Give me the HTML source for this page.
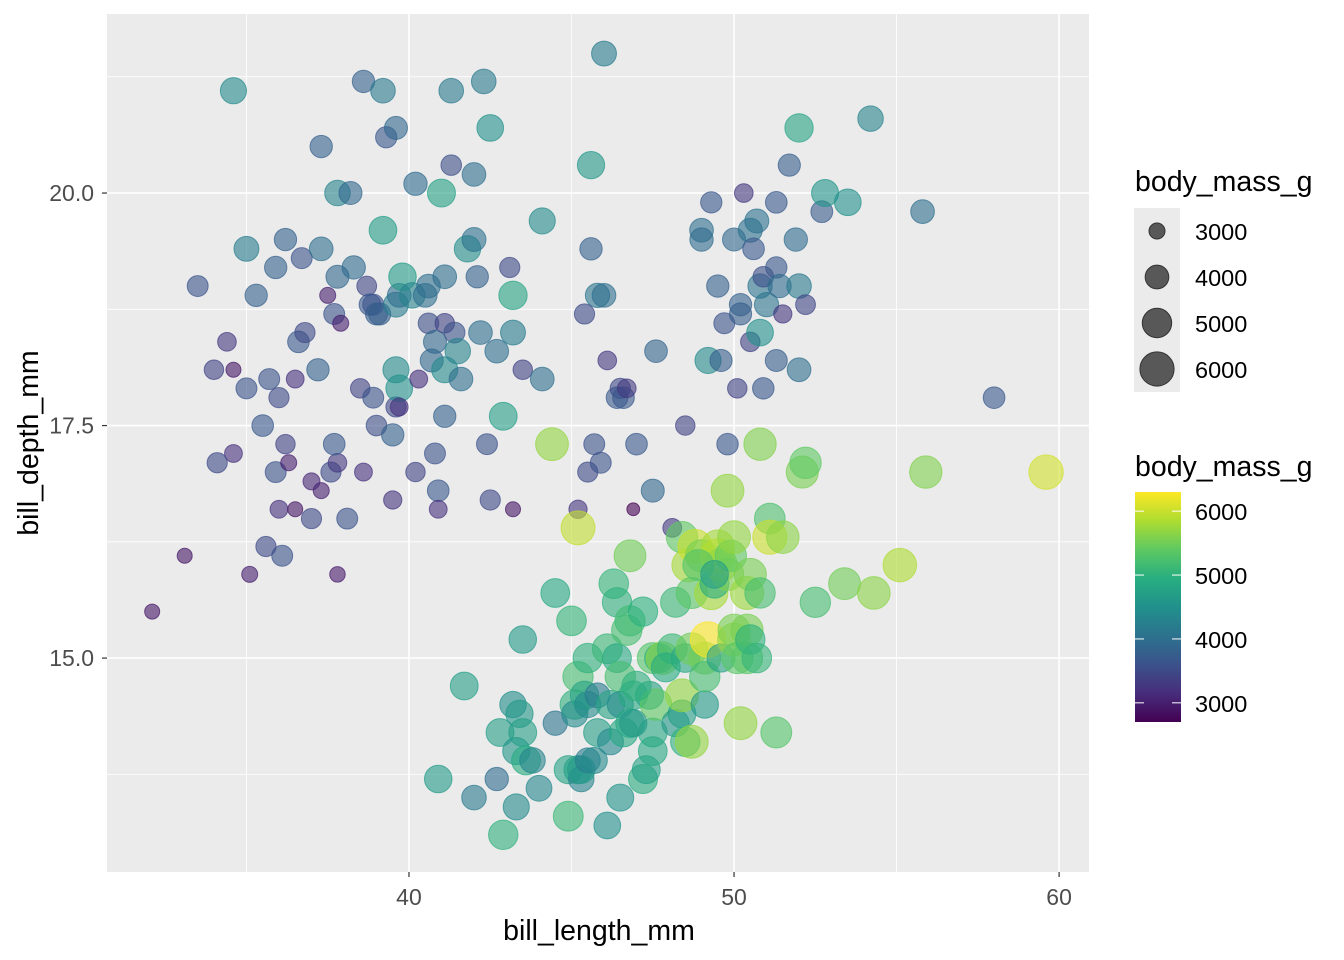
<!DOCTYPE html>
<html><head><meta charset="utf-8"><style>
body{margin:0;background:#fff;}
svg{display:block;font-family:"Liberation Sans",Arial,sans-serif;}
</style></head><body>
<svg id="chart" width="1344" height="960" xmlns="http://www.w3.org/2000/svg">
<rect x="107" y="14" width="982" height="858" fill="#EBEBEB"/>
<g id="grid"></g>
<g id="points"></g>
<g id="axes"></g>
<text x="599" y="940" font-size="28.5" text-anchor="middle" fill="#000">bill_length_mm</text>
<text transform="translate(38,443) rotate(-90)" font-size="28.5" text-anchor="middle" fill="#000">bill_depth_mm</text>
<g id="legend-size">
<text x="1135" y="191" font-size="28.5" fill="#000">body_mass_g</text>
<rect x="1134" y="208" width="46" height="184" fill="#EBEBEB"/>
</g>
<g id="legend-color">
<text x="1135" y="476" font-size="28.5" fill="#000">body_mass_g</text>
<defs><linearGradient id="vir" x1="0" y1="1" x2="0" y2="0">
<stop offset="0" stop-color="#440154"/><stop offset="0.125" stop-color="#472D7B"/><stop offset="0.25" stop-color="#3B528B"/><stop offset="0.375" stop-color="#2C728E"/><stop offset="0.5" stop-color="#21918C"/><stop offset="0.625" stop-color="#28AE80"/><stop offset="0.75" stop-color="#5EC962"/><stop offset="0.875" stop-color="#ADDC30"/><stop offset="1" stop-color="#FDE725"/>
</linearGradient></defs>
<rect x="1135" y="492" width="46" height="230" fill="url(#vir)"/>
</g>
</svg>
<script>
const xTicks=[40,50,60];
const xMinor=[35,45,55];
const yTicks=[15.0,17.5,20.0];
const yMinor=[13.75,16.25,18.75,21.25];
const sizeBreaks=[3000,4000,5000,6000];
const colorBreaks=[3000,4000,5000,6000];
const billLength=[32.1,33.1,33.5,34.0,34.4,34.6,34.6,34.1,34.6,35.1,35.0,35.0,35.3,35.5,35.6,35.9,35.7,35.9,36.0,36.2,36.1,36.2,36.3,36.5,36.6,36.7,36.8,36.0,36.5,37.0,37.2,37.3,37.3,37.6,37.7,37.8,37.9,37.8,37.8,37.7,37.5,37.3,37.0,37.8,38.1,38.2,38.3,38.5,38.6,38.6,38.7,38.8,38.9,38.9,39.0,39.0,39.1,39.2,39.2,39.3,39.5,39.5,39.6,39.6,39.6,39.6,39.7,39.7,39.7,39.8,40.1,40.2,40.2,40.3,40.5,40.6,40.6,40.7,40.8,40.8,40.9,40.9,41.0,41.1,41.1,41.1,41.1,41.3,41.3,41.4,41.5,41.6,41.8,42.0,42.0,42.1,42.2,42.3,42.4,42.5,42.5,42.7,42.9,43.1,43.2,43.2,43.2,43.5,44.1,44.1,45.6,45.8,46.0,45.7,45.5,
45.2,45.4,45.6,45.9,46.0,46.1,46.4,46.5,46.6,46.7,46.9,47.0,47.5,47.6,48.1,48.5,49.0,49.0,49.2,49.3,49.5,49.6,49.7,50.0,50.1,50.2,50.2,50.3,50.5,50.5,50.6,50.7,50.8,50.8,50.9,50.9,51.0,51.3,51.3,51.3,51.4,51.5,51.7,51.9,52.0,52.0,52.0,52.2,52.7,52.8,53.5,54.2,55.8,58.0,49.8,
40.9,41.7,42.0,42.7,42.8,42.9,43.2,43.3,43.3,43.4,43.5,43.5,43.6,43.8,44.0,44.4,44.5,44.5,44.9,44.9,45.0,45.1,45.1,45.2,45.2,45.2,45.3,45.3,45.4,45.5,45.5,45.5,45.7,45.8,45.8,46.1,46.1,46.2,46.2,46.3,46.4,46.4,46.5,46.5,46.5,46.6,46.7,46.8,46.8,46.8,46.9,47.2,47.2,47.3,47.4,47.5,47.5,47.5,47.6,47.7,47.8,48.1,48.2,48.2,48.4,48.4,48.4,48.5,48.5,48.6,48.7,48.7,48.7,48.8,49.0,49.1,49.1,49.1,49.2,49.3,49.4,49.5,49.5,49.6,49.6,49.8,49.8,49.9,50.0,50.0,50.0,50.1,50.2,50.4,50.4,50.4,50.5,50.5,50.7,50.8,50.8,51.1,51.1,51.3,51.5,52.1,52.2,52.5,53.4,54.3,55.1,55.9,59.6,47.0,46.9,47.9,48.9,49.4];
const billDepth=[15.5,16.1,19.0,18.1,18.4,18.1,17.2,17.1,21.1,15.9,19.4,17.9,18.9,17.5,16.2,17.0,18.0,19.2,17.8,17.3,16.1,19.5,17.1,18.0,18.4,19.3,18.5,16.6,16.6,16.5,18.1,19.4,20.5,17.0,18.7,17.1,18.6,19.1,20.0,17.3,18.9,16.8,16.9,15.9,16.5,20.0,19.2,17.9,21.2,17.0,19.0,18.8,17.8,18.8,17.5,18.7,18.7,21.1,19.6,20.6,17.4,16.7,17.7,20.7,18.1,18.8,17.9,18.9,17.7,19.1,18.9,20.1,17.0,18.0,18.9,18.6,19.0,18.2,17.2,18.4,16.8,16.6,20.0,19.1,18.1,17.6,18.6,21.1,20.3,18.5,18.3,18.0,19.4,19.5,20.2,19.1,18.5,21.2,17.3,20.7,16.7,18.3,17.6,19.2,18.5,18.9,16.6,18.1,19.7,18.0,20.3,18.9,21.5,17.3,17.0,
16.6,18.7,19.4,17.1,18.9,18.2,17.8,17.9,17.8,17.9,16.6,17.3,16.8,18.3,16.4,17.5,19.6,19.5,18.2,19.9,19.0,18.2,18.6,19.5,17.9,18.8,18.7,20.0,19.6,18.4,19.4,19.7,19.0,18.5,19.1,17.9,18.8,19.9,19.2,18.2,19.0,18.7,20.3,19.5,18.1,19.0,20.7,18.8,19.8,20.0,19.9,20.8,19.8,17.8,17.3,
13.7,14.7,13.5,13.7,14.2,13.1,14.5,14.0,13.4,14.4,14.2,15.2,13.9,13.9,13.6,17.3,14.3,15.7,13.8,13.3,15.4,14.5,14.4,13.8,14.8,16.4,13.7,13.8,14.6,13.9,14.5,15.0,13.9,14.6,14.2,13.2,15.1,14.5,14.1,15.8,15.6,15.0,14.8,14.5,13.5,14.2,15.3,14.3,16.1,15.4,14.6,13.7,15.5,13.8,14.6,14.2,14.0,15.0,14.5,15.0,15.0,15.1,14.3,15.6,16.3,14.4,14.6,14.1,15.0,16.0,14.1,15.1,15.7,16.2,16.1,14.5,15.0,14.8,15.2,15.7,15.8,16.2,16.1,15.0,16.0,15.9,16.8,16.1,15.2,15.3,16.3,15.0,14.3,15.0,15.3,15.7,15.9,15.2,15.0,15.7,17.3,16.5,16.3,14.2,16.3,17.0,17.1,15.6,15.8,15.7,16.0,17.0,17.0,14.7,14.3,14.9,16.0,15.9];
const bodyMass=[2900,2900,3600,3400,3300,2900,3200,3500,4400,3000,4200,3600,3800,3700,3500,3600,3600,3800,3500,3400,3600,3800,3000,3200,3700,3600,3500,3200,2900,3500,3800,4000,3800,3500,3600,3300,3000,3900,4300,3700,3000,3000,3100,2950,3600,3900,3950,3400,3800,3200,3450,3700,3600,3600,3550,3750,3750,4150,4675,3650,3800,3250,3500,3900,4400,4200,4500,4000,3200,4650,4300,3950,3400,3200,4000,3550,4000,3900,3600,3900,3700,3200,4725,4000,4400,3800,3400,4150,3550,3600,4300,4000,4450,4050,4000,3800,4000,4150,3600,4500,3500,4000,4700,3500,4200,4800,2900,3400,4400,4000,4600,4100,4200,3600,3500,
3250,3500,3800,3600,4000,3300,3700,3500,3700,3300,2700,3700,3900,3850,3325,3400,4000,3950,4400,3650,3800,3775,3600,3900,3400,3800,3775,3300,4050,3400,3700,4050,4100,4500,3550,3675,4100,3700,3650,3750,3950,3250,3775,3950,4000,4150,4800,3450,3725,4550,4500,4300,4000,3700,3675,
4650,4700,4150,3950,4700,5000,4450,4575,4400,4600,4700,4650,4900,4300,4350,5700,4100,4875,4750,5100,5050,5000,4400,4750,5200,5950,4300,4650,4800,4200,4400,5000,4400,4200,4700,4500,5100,4800,4375,5050,5000,4875,5200,4400,4550,4850,5200,4850,5500,5150,4875,4925,4975,4725,4725,4875,4875,5300,5400,4975,5650,5100,4600,5100,5400,4700,5700,5000,4850,5800,5700,5500,5350,6000,5550,4625,5500,5200,6300,5800,4925,5800,5900,4750,5700,5600,5700,5400,5700,5550,5700,5350,5700,5350,5550,5750,5550,5000,5050,5200,5600,5250,6000,5300,5650,5550,5400,5200,5500,5650,5850,5600,6050,5000,4600,4900,5300,4700];

const NS='http://www.w3.org/2000/svg';
const svg=document.getElementById('chart');
const X0=107,X1=1089,Y0=14,Y1=872;
const xDom=[30.71,60.92],yDom=[12.70,21.925];
const sx=v=>X0+(v-xDom[0])/(xDom[1]-xDom[0])*(X1-X0);
const sy=v=>Y1-(v-yDom[0])/(yDom[1]-yDom[0])*(Y1-Y0);
const mMin=2700,mMax=6300;
const rScale=m=>Math.sqrt(Math.max(0,64+(m-3000)*0.076));
const vir=['#440154','#472D7B','#3B528B','#2C728E','#21918C','#28AE80','#5EC962','#ADDC30','#FDE725'];
function hex(h){return [1,3,5].map(i=>parseInt(h.substr(i,2),16));}
function cScale(m){let t=Math.min(1,Math.max(0,(m-mMin)/(mMax-mMin)))*8;let i=Math.min(7,Math.floor(t)),f=t-i;const a=hex(vir[i]),b=hex(vir[i+1]);return 'rgb('+a.map((v,k)=>Math.round(v+(b[k]-v)*f)).join(',')+')';}
function mk(tag,attrs,parent){const e=document.createElementNS(NS,tag);for(const k in attrs)e.setAttribute(k,attrs[k]);parent.appendChild(e);return e;}

const grid=document.getElementById('grid');
xMinor.forEach(v=>{const l=mk('line',{x1:sx(v),x2:sx(v),y1:Y0,y2:Y1,stroke:'#fff','stroke-width':0.8},grid);

});
yMinor.forEach(v=>{const l=mk('line',{x1:X0,x2:X1,y1:sy(v),y2:sy(v),stroke:'#fff','stroke-width':0.8},grid);

});
xTicks.forEach(v=>{const l=mk('line',{x1:sx(v),x2:sx(v),y1:Y0,y2:Y1,stroke:'#fff','stroke-width':1.6},grid);

});
yTicks.forEach(v=>{const l=mk('line',{x1:X0,x2:X1,y1:sy(v),y2:sy(v),stroke:'#fff','stroke-width':1.6},grid);

});

const pts=document.getElementById('points');
billLength.forEach((x,i)=>{const c=cScale(bodyMass[i]);
const p=mk('circle',{cx:sx(x),cy:sy(billDepth[i]),r:rScale(bodyMass[i]),fill:c,stroke:c,'fill-opacity':0.6,'stroke-opacity':0.7,'stroke-width':1},pts);

});

const axes=document.getElementById('axes');
xTicks.forEach(v=>{const t=mk('line',{x1:sx(v),x2:sx(v),y1:Y1,y2:Y1+5,stroke:'#333','stroke-width':1.2},axes);


const l=mk('text',{x:sx(v),y:Y1+33,'font-size':23,'text-anchor':'middle',fill:'#4D4D4D'},axes);l.textContent=v;

});
yTicks.forEach(v=>{const t=mk('line',{x1:X0-5,x2:X0,y1:sy(v),y2:sy(v),stroke:'#333','stroke-width':1.2},axes);


const l=mk('text',{x:X0-13,y:sy(v)+8,'font-size':23,'text-anchor':'end',fill:'#4D4D4D'},axes);l.textContent=v.toFixed(1);

});

const ls=document.getElementById('legend-size');
sizeBreaks.forEach((m,i)=>{const cy=231+i*46;
const c=mk('circle',{cx:1157,cy:cy,r:rScale(m),fill:'#333',stroke:'#333','fill-opacity':0.8},ls);


const t=mk('text',{x:1195,y:cy+9,'font-size':23.5,fill:'#000'},ls);t.textContent=m;

});

const lc=document.getElementById('legend-color');
const cy=m=>722-(m-mMin)/(mMax-mMin)*230;
colorBreaks.forEach(m=>{const y=cy(m);
const a=mk('line',{x1:1135,x2:1144,y1:y,y2:y,stroke:'#fff','stroke-width':1},lc);


const b=mk('line',{x1:1172,x2:1181,y1:y,y2:y,stroke:'#fff','stroke-width':1},lc);


const t=mk('text',{x:1195,y:y+9,'font-size':23.5,fill:'#000'},lc);t.textContent=m;

});
</script>
</body></html>
